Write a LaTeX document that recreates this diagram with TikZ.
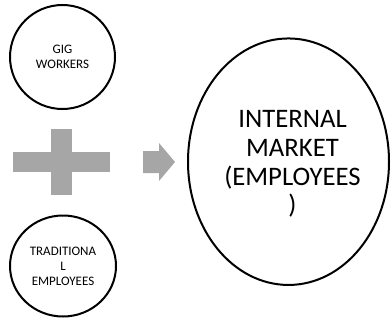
\documentclass[tikz,border=0pt]{standalone}
\usepackage{fontspec}
\setmainfont{Carlito}
\usetikzlibrary{shapes.geometric}
\definecolor{blockgray}{HTML}{A6A6A6}
\tikzset{
  group/.style={ellipse, draw=black, line width=2pt, inner sep=0pt,
    align=center, font=\fontsize{13}{15}\selectfont},
  market/.style={ellipse, draw=black, line width=2pt, inner sep=0pt},
  markettext/.style={align=center, inner sep=0pt,
    font=\fontsize{26.7}{28.7}\selectfont},
  block/.style={fill=blockgray, draw=none}
}
\begin{document}
\begin{tikzpicture}[x=1pt, y=-1pt]
  \useasboundingbox (0,0) rectangle (391,321);
  % the two workforce groups
  \node[group, minimum width=105pt, minimum height=104pt] (gig) at (62.5,57)
    {GIG\\WORKERS};
  \node[group, minimum width=106pt, minimum height=101pt] (trad) at (63,266)
    {TRADITIONA\\L\\EMPLOYEES};
  % the combined market and its caption
  \node[market, minimum width=201pt, minimum height=246.5pt] (market) at (288.5,161.7) {};
  \node[markettext] (marketlabel) at ([xshift=4pt, yshift=-2.5pt]market.center)
    {INTERNAL\\MARKET\\(EMPLOYEES\\)};
  % plus sign between the groups
  \path[block] (13,152) rectangle (110,172);
  \path[block] (51,129) rectangle (72,195);
  % block arrow towards the market
  \path[block] (143,151) -- (159,151) -- (159,143) -- (175,162)
    -- (159,181) -- (159,173) -- (143,173) -- cycle;
\end{tikzpicture}
\end{document}
